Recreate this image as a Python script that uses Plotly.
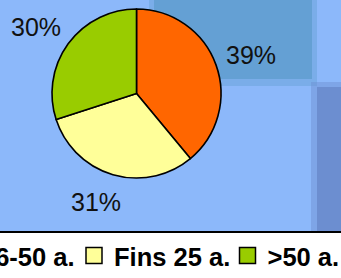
import math
import plotly.graph_objects as go

# ---- data ----
categories = ["26-50 a.", "Fins 25 a.", ">50 a."]
values = [39, 31, 30]
colors = ["#FF6600", "#FFFF99", "#99CC00"]

W, H = 341, 278


def px(x):
    return x / W


def py(y):
    return 1 - y / H


CX, CY, R = 136.5, 93.5, 84.5
LABEL_D = 1.333 * R   # distance of label centre along slice mid-angle
LABEL_PUSH = 9        # extra horizontal push away from the pie

fig = go.Figure()
fig.add_trace(go.Pie(
    labels=categories, values=values, sort=False, direction="clockwise", rotation=0,
    marker=dict(colors=colors, line=dict(color="black", width=1.6)),
    textinfo="none", showlegend=False, hoverinfo="skip",
    domain=dict(x=[px(CX - R), px(CX + R)], y=[py(CY + R), py(CY - R)]),
))

legend_ids = ["legend", "legend2", "legend3"]
for name, col, lid in zip(categories, colors, legend_ids):
    fig.add_trace(go.Scatter(
        x=[None], y=[None], mode="markers", name=name, legend=lid,
        marker=dict(symbol="square", size=16, color=col, line=dict(color="black", width=1.5)),
        hoverinfo="skip", showlegend=True,
    ))

# percentage labels placed along each slice's mid-angle
total = sum(values)
annotations = []
cum = 0
for v in values:
    mid = (cum + v / 2) / total * 2 * math.pi
    cum += v
    s, c = math.sin(mid), math.cos(mid)
    lx = CX + LABEL_D * s + math.copysign(LABEL_PUSH, s)
    ly = CY - LABEL_D * c
    annotations.append(dict(
        x=px(lx), y=py(ly), xref="paper", yref="paper", showarrow=False,
        text=f"{round(v / total * 100)}%", xanchor="center", yanchor="middle",
        font=dict(family="Liberation Sans, Arial, sans-serif", size=25, color="#111111"),
    ))

legend_font = dict(family="Liberation Sans, Arial, sans-serif", size=25.5, color="black", weight="bold")
sym_centers = [-39, 94, 247.5]
LEG_Y = 256
legends = {}
for lid, cxs in zip(legend_ids, sym_centers):
    legends[lid] = dict(
        x=px(cxs - 20), xanchor="left", y=py(LEG_Y), yanchor="middle",
        orientation="h", bgcolor="rgba(0,0,0,0)", borderwidth=0, font=legend_font,
        itemclick=False, itemdoubleclick=False, itemsizing="trace",
    )

shapes = [
    # soft darker block top right
    dict(type="rect", xref="paper", yref="paper", x0=px(149), x1=px(317), y0=py(86), y1=py(-5),
         fillcolor="#64A0D4", opacity=0.45, line=dict(width=0), layer="below"),
    dict(type="rect", xref="paper", yref="paper", x0=px(154), x1=px(312), y0=py(79), y1=py(-5),
         fillcolor="#64A0D4", opacity=1, line=dict(width=0), layer="below"),
    # right strip
    dict(type="rect", xref="paper", yref="paper", x0=px(311), x1=px(350), y0=py(232), y1=py(82),
         fillcolor="#6C8ED0", opacity=0.45, line=dict(width=0), layer="below"),
    dict(type="rect", xref="paper", yref="paper", x0=px(317), x1=px(350), y0=py(232), y1=py(87),
         fillcolor="#6C8ED0", opacity=1, line=dict(width=0), layer="below"),
    # white legend band
    dict(type="rect", xref="paper", yref="paper", x0=px(-10), x1=px(360), y0=py(290), y1=py(232),
         fillcolor="white", line=dict(width=0), layer="below"),
    dict(type="line", xref="paper", yref="paper", x0=px(-10), x1=px(360), y0=py(232), y1=py(232),
         line=dict(color="black", width=2), layer="below"),
]

fig.update_layout(
    width=W, height=H,
    margin=dict(l=0, r=0, t=0, b=0, autoexpand=False),
    paper_bgcolor="#8CB8FA", plot_bgcolor="rgba(0,0,0,0)",
    xaxis=dict(visible=False), yaxis=dict(visible=False),
    shapes=shapes, annotations=annotations,
    **legends,
)

fig.write_html(
    "out.html",
    config={"displayModeBar": False, "staticPlot": True},
    post_script="document.body.style.margin='0px';document.body.style.overflow='hidden';",
)
